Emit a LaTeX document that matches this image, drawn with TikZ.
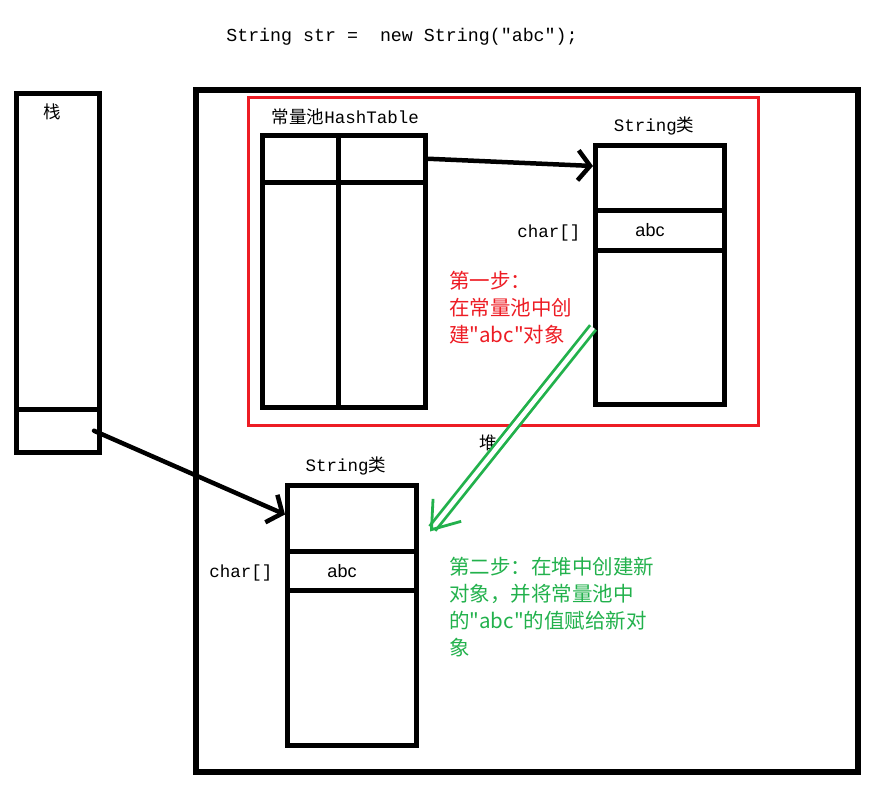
\documentclass[tikz,border=0pt]{standalone}
\usepackage{fontspec}
\setmonofont{Liberation Mono}
\setsansfont{Liberation Sans}
\newfontfamily\cjk{Noto Sans CJK SC}
\usetikzlibrary{arrows.meta}
\definecolor{paintred}{RGB}{237,28,36}
\definecolor{paintgreen}{RGB}{34,177,76}
\newcommand{\clsname}{{\ttfamily String}{\cjk 类}}

\begin{document}
\begin{tikzpicture}[x=1pt, y=-1pt,
    cell/.style={draw, line width=5, inner sep=0, minimum width=#1},
    arrow/.style={line width=4.5, line cap=round, -{Straight Barb[length=12, width=30]}},
    lbl/.style={font=\cjk\fontsize{17.5}{20}\selectfont},
    val/.style={font=\sffamily\fontsize{18}{20}\selectfont},
    note/.style={font=\cjk\fontsize{20.5}{27}\selectfont, align=left, anchor=north west, inner sep=0}]
\useasboundingbox (0,0) rectangle (878,789);

\node[font=\ttfamily\fontsize{18.3}{20}\selectfont] (code) at (402,37) {String str =~ new String("abc");};

% stack
\node[cell=83, minimum height=315.5] (stk) at (58,251.75) {};
\node[cell=83, minimum height=42.5] (sref) at (58,430.75) {};
\node[lbl] (stklbl) at (52,112) {栈};

% heap and constant pool
\node[draw, line width=6, minimum width=662, minimum height=682] (heap) at (527,431) {};
\node[draw=paintred, line width=3, minimum width=510, minimum height=327.5] (pool) at (503,261.25) {};
\node[lbl] (heaplbl) at (488,443) {堆};

% hashtable
\node[lbl] (htlbl) at (345.5,117) {常量池{\ttfamily HashTable}};
\node[cell=76, minimum height=46.5] (htl) at (300.5,158.75) {};
\node[cell=87, minimum height=46.5] (htr) at (382,158.75) {};
\node[cell=76, minimum height=225.5] (hbl) at (300.5,294.75) {};
\node[cell=87, minimum height=225.5] (hbr) at (382,294.75) {};

% String object in the pool
\node[cell=129, minimum height=65, label={[lbl, label distance=4, xshift=-6]above:\clsname}] (cls1top) at (660,178) {};
\node[cell=129, minimum height=40, label={[lbl, label distance=9, yshift=-2]left:{\ttfamily char[]}}, label={[val, xshift=-10]center:abc}] (cls1val) at (660,230.5) {};
\node[cell=129, minimum height=154] (cls1rest) at (660,327.5) {};

% String object in the heap
\node[cell=129, minimum height=66, label={[lbl, label distance=4, xshift=-6]above:\clsname}] (cls2top) at (352,518.5) {};
\node[cell=129, minimum height=39, label={[lbl, label distance=9, yshift=-2]left:{\ttfamily char[]}}, label={[val, xshift=-10]center:abc}] (cls2val) at (352,571) {};
\node[cell=129, minimum height=154.5] (cls2rest) at (352,667.75) {};

% steps
\node[note, text=paintred] (step1) at (449,271) {第一步：\\在常量池中创\\建"abc"对象};
\node[note, text=paintgreen] (step2) at (449,557) {第二步：在堆中创建新\\对象，并将常量池中\\的"abc"的值赋给新对\\象};

\draw[arrow] (htr.east) -- ([yshift=12]cls1top.west);
\draw[arrow] ([xshift=-8]sref.east) -- ([yshift=4]cls2top.west);
\draw[paintgreen, line width=2.8, double=white, double distance=4.5, -{Straight Barb[length=25, width=36]}] (cls1rest.west) -- ([shift={(11,13)}]cls2top.east);
\end{tikzpicture}
\end{document}
